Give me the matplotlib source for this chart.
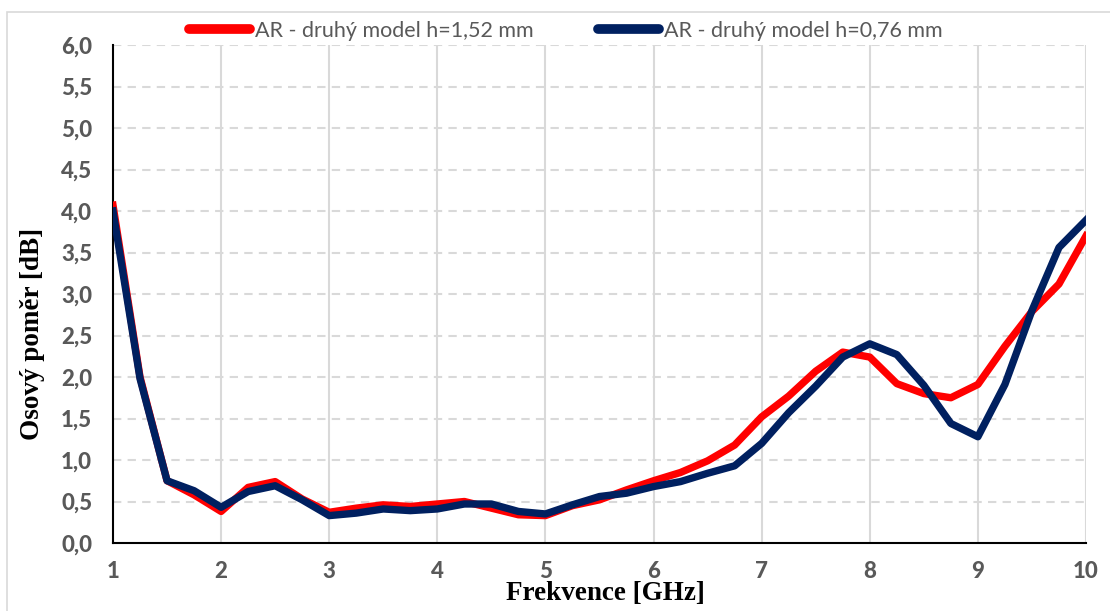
import numpy as np
import matplotlib.pyplot as plt
from matplotlib.patches import Rectangle

freq = np.arange(1, 10.01, 0.25)

ar_152 = [4.07, 2.00, 0.75, 0.58, 0.38, 0.67, 0.74, 0.53, 0.37, 0.42,
          0.46, 0.44, 0.47, 0.50, 0.42, 0.34, 0.33, 0.45, 0.52, 0.64,
          0.75, 0.85, 0.99, 1.18, 1.52, 1.77, 2.07, 2.30, 2.24, 1.92,
          1.80, 1.75, 1.91, 2.37, 2.79, 3.12, 3.70]

ar_076 = [4.00, 1.98, 0.75, 0.63, 0.43, 0.62, 0.69, 0.52, 0.33, 0.36,
          0.41, 0.39, 0.41, 0.47, 0.47, 0.38, 0.35, 0.46, 0.56, 0.60,
          0.68, 0.74, 0.84, 0.93, 1.20, 1.57, 1.89, 2.24, 2.40, 2.27,
          1.90, 1.44, 1.28, 1.91, 2.80, 3.56, 3.89]

labels = ['AR - druhý model h=1,52 mm', 'AR - druhý model h=0,76 mm']
x_ticks = list(range(1, 11))
y_ticks = np.arange(0, 6.01, 0.5)

tick_font = 'Lato'
serif_font = 'Liberation Serif'

fig = plt.figure(figsize=(11.1, 6.11), dpi=100)
ax = fig.add_axes([113 / 1110, 68 / 611, 973 / 1110, 498 / 611])

# outer chart border
fig.patches.append(Rectangle((7 / 1110, -0.05), 1.1, (611 - 12) / 611 + 0.05,
                             transform=fig.transFigure, fill=False,
                             edgecolor='#d9d9d9', linewidth=1.2))

ax.plot(freq, ar_152, color='#ff0000', linewidth=5.3, label=labels[0],
        solid_joinstyle='round', zorder=3)
ax.plot(freq, ar_076, color='#002060', linewidth=5.3, label=labels[1],
        solid_joinstyle='round', zorder=4)

ax.set_xlim(1, 10)
ax.set_ylim(0, 6)
ax.set_xticks(x_ticks)
ax.set_yticks(y_ticks)
ax.set_yticklabels([f'{v:.1f}'.replace('.', ',') for v in y_ticks])

for x in x_ticks[1:]:
    ax.axvline(x, color='#d9d9d9', linewidth=1.5, zorder=1)
for y in y_ticks[1:]:
    ax.axhline(y, color='#d9d9d9', linewidth=1.5, linestyle=(0, (4, 3)), zorder=1)

for side in ['top', 'right']:
    ax.spines[side].set_visible(False)
ax.spines['left'].set_linewidth(1.5)
ax.spines['bottom'].set_linewidth(1.5)

ax.tick_params(axis='x', length=0, pad=13, labelcolor='#595959')
ax.tick_params(axis='y', length=0, pad=15, labelcolor='#595959')
for lab in ax.get_xticklabels() + ax.get_yticklabels():
    lab.set_fontfamily(tick_font)
    lab.set_fontweight('black')
    lab.set_fontsize(16)

fig.text(605 / 1110, 1 - 594 / 611, 'Frekvence [GHz]', ha='center', va='center',
         fontfamily=serif_font, fontweight='bold', fontsize=19.5)
fig.text(33 / 1110, 1 - 334 / 611, 'Osový poměr [dB]', ha='center', va='center',
         rotation=90, fontfamily=serif_font, fontweight='bold', fontsize=19.5)

leg = fig.legend(loc='center', bbox_to_anchor=(566 / 1110, 1 - 31 / 611), ncol=2,
                 frameon=False, handlelength=2.8, handletextpad=0.25,
                 columnspacing=3.0, prop={'family': tick_font, 'size': 15.5})
for t in leg.get_texts():
    t.set_color('#595959')
for h in leg.legend_handles:
    h.set_linewidth(7)
    h.set_solid_capstyle('round')

fig.savefig('out.png', dpi=100)
